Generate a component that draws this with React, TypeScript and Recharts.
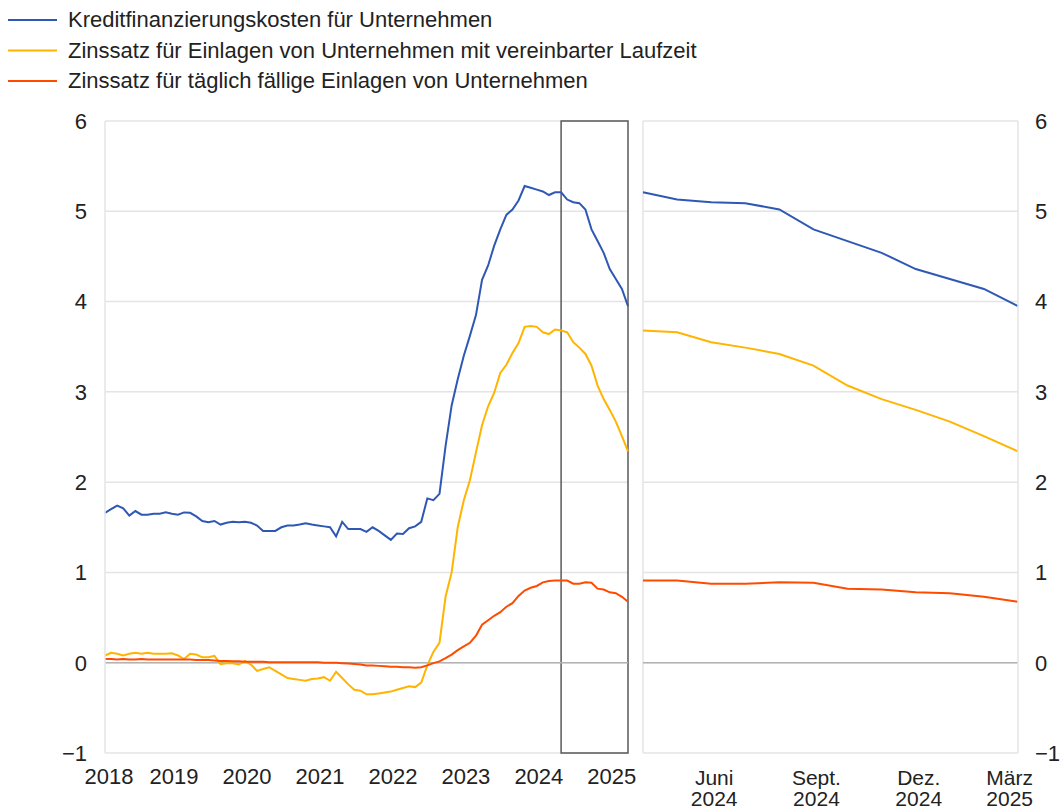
import { LineChart, Line, XAxis, YAxis, CartesianGrid, ReferenceLine, ReferenceArea } from 'recharts';

const FONT = '"Liberation Sans", Arial, sans-serif';
const TEXT = '#222222';
const GRID = '#e4e4e4';

const seriesNames = [
  'Kreditfinanzierungskosten für Unternehmen',
  'Zinssatz für Einlagen von Unternehmen mit vereinbarter Laufzeit',
  'Zinssatz für täglich fällige Einlagen von Unternehmen',
];
const seriesKeys = ['kredit', 'laufzeit', 'taeglich'];
const seriesColors = ['#2F58B4', '#FFB400', '#FF4B00'];

// monthly, Jan 2018 - Mar 2025 (% p.a.)
const kreditkosten = [
  1.66, 1.70, 1.74, 1.71, 1.63, 1.68, 1.64, 1.64, 1.65, 1.65, 1.665, 1.65,
  1.64, 1.665, 1.66, 1.62, 1.57, 1.555, 1.57, 1.53, 1.55, 1.56, 1.555, 1.56,
  1.55, 1.52, 1.46, 1.46, 1.46, 1.50, 1.52, 1.52, 1.53, 1.545, 1.53, 1.52,
  1.51, 1.50, 1.40, 1.56, 1.48, 1.48, 1.48, 1.45, 1.50, 1.46, 1.41, 1.36,
  1.43, 1.425, 1.49, 1.51, 1.56, 1.82, 1.80, 1.87, 2.40, 2.85, 3.14, 3.40,
  3.62, 3.85, 4.24, 4.40, 4.62, 4.80, 4.96, 5.02, 5.12, 5.28, 5.26, 5.24,
  5.22, 5.18, 5.21, 5.21, 5.13, 5.10, 5.09, 5.02, 4.80, 4.67, 4.54, 4.36,
  4.25, 4.14, 3.95,
];

const einlagenLaufzeit = [
  0.08, 0.11, 0.10, 0.08, 0.10, 0.11, 0.10, 0.11, 0.10, 0.10, 0.10, 0.105,
  0.08, 0.04, 0.10, 0.09, 0.06, 0.06, 0.075, -0.015, -0.005, -0.005, -0.02, 0.02,
  -0.02, -0.09, -0.07, -0.05, -0.09, -0.13, -0.17, -0.18, -0.19, -0.20, -0.18, -0.175,
  -0.16, -0.20, -0.10, -0.17, -0.24, -0.30, -0.31, -0.35, -0.35, -0.34, -0.33, -0.32,
  -0.30, -0.28, -0.26, -0.27, -0.22, -0.03, 0.12, 0.22, 0.73, 1.00, 1.50, 1.80,
  2.02, 2.33, 2.63, 2.84, 2.99, 3.21, 3.30, 3.43, 3.54, 3.72, 3.73, 3.72,
  3.66, 3.64, 3.69, 3.68, 3.66, 3.55, 3.49, 3.42, 3.29, 3.07, 2.92, 2.80,
  2.67, 2.51, 2.34,
];

const taeglichFaellig = [
  0.04, 0.04, 0.035, 0.04, 0.035, 0.035, 0.04, 0.035, 0.035, 0.035, 0.035, 0.035,
  0.035, 0.035, 0.035, 0.03, 0.03, 0.03, 0.025, 0.02, 0.02, 0.015, 0.015, 0.01,
  0.01, 0.01, 0.01, 0.005, 0.005, 0.005, 0.005, 0.005, 0.005, 0.005, 0.005, 0.005,
  0.0, 0.0, 0.0, -0.005, -0.01, -0.015, -0.02, -0.03, -0.03, -0.035, -0.04, -0.045,
  -0.045, -0.05, -0.05, -0.055, -0.05, -0.03, -0.005, 0.015, 0.05, 0.09, 0.14, 0.18,
  0.22, 0.30, 0.42, 0.47, 0.52, 0.56, 0.62, 0.66, 0.74, 0.80, 0.83, 0.85,
  0.89, 0.905, 0.91, 0.91, 0.91, 0.875, 0.875, 0.89, 0.885, 0.82, 0.81, 0.78,
  0.77, 0.73, 0.675,
];

const firstYear = 2018;
const yearLabels = [2018, 2019, 2020, 2021, 2022, 2023, 2024, 2025];
const yTicks = [-1, 0, 1, 2, 3, 4, 5, 6];

// zoomed panel: Apr 2024 - Mar 2025
const zoomStart = 75;
const rightTickMonths = [2, 5, 8, 11];
const rightTickLabels = [
  ['Juni', '2024'],
  ['Sept.', '2024'],
  ['Dez.', '2024'],
  ['März', '2025'],
];

const leftData = kreditkosten.map((v, i) => ({
  m: i,
  kredit: v,
  laufzeit: einlagenLaufzeit[i],
  taeglich: taeglichFaellig[i],
}));
const rightData = leftData.slice(zoomStart).map((d, i) => ({ ...d, m: i }));
const lastMonth = leftData.length - 1;

const fmtY = (v: number) => (v < 0 ? '\u2212' + Math.abs(v) : String(v));
const tickStyle = { fontSize: 22, fill: TEXT, fontFamily: FONT };

function YearTick(props: any) {
  const { x, y, payload, index } = props;
  const dx = index === 0 ? 4 : -4;
  return (
    <text x={x + dx} y={y + 31} textAnchor="middle" style={tickStyle}>
      {String(firstYear + payload.value / 12)}
    </text>
  );
}

function RightTick(props: any) {
  const { x, y, index } = props;
  const [l1, l2] = rightTickLabels[index] ?? ['', ''];
  const last = index === rightTickLabels.length - 1;
  const tx = last ? x + 15 : x + 3;
  const style = { ...tickStyle, fontSize: 21 };
  return (
    <g>
      <text x={tx} y={y + 32} textAnchor={last ? 'end' : 'middle'} style={style}>{l1}</text>
      <text x={tx} y={y + 53} textAnchor={last ? 'end' : 'middle'} style={style}>{l2}</text>
    </g>
  );
}

function Legend() {
  return (
    <svg width={720} height={100} style={{ position: 'absolute', left: 0, top: 0 }}>
      {seriesNames.map((name, i) => {
        const ly = 20 + i * 30.5;
        return (
          <g key={name}>
            <line x1={8} x2={57} y1={ly} y2={ly} stroke={seriesColors[i]} strokeWidth={2} />
            <text x={68} y={ly + 7} style={{ fontSize: 22, fill: TEXT, fontFamily: FONT }}>{name}</text>
          </g>
        );
      })}
    </svg>
  );
}

export default function App() {
  return (
    <div style={{ position: 'absolute', left: 0, top: 0, width: 1062, height: 811, background: '#fff', fontFamily: FONT }}>
      <Legend />

      <div style={{ position: 'absolute', left: 0, top: 0 }}>
        <LineChart width={640} height={811} data={leftData} margin={{ top: 121, right: 12, bottom: 8, left: 0 }}>
          <CartesianGrid vertical={false} stroke={GRID} strokeWidth={1.5} />
          <XAxis
            type="number"
            dataKey="m"
            domain={[0, lastMonth]}
            ticks={yearLabels.map((y) => (y - firstYear) * 12)}
            axisLine={false}
            tickLine={false}
            tickSize={0}
            tickMargin={0}
            height={50}
            tick={<YearTick />}
            interval={0}
          />
          <YAxis
            type="number"
            domain={[-1, 6]}
            ticks={yTicks}
            tickFormatter={fmtY}
            axisLine={{ stroke: GRID, strokeWidth: 1.5 }}
            tickLine={false}
            tickSize={0}
            tickMargin={18}
            width={105}
            tick={tickStyle}
            interval={0}
          />
          <ReferenceLine y={0} stroke="#b3b3b3" strokeWidth={1.5} />
          {seriesKeys.map((k, i) => (
            <Line
              key={k}
              dataKey={k}
              stroke={seriesColors[i]}
              strokeWidth={2}
              dot={false}
              type="linear"
              isAnimationActive={false}
            />
          ))}
          <ReferenceArea x1={zoomStart} x2={lastMonth} y1={-1} y2={6} fill="none" stroke="#5a5a5a" strokeWidth={1.5} />
        </LineChart>
      </div>

      <div style={{ position: 'absolute', left: 630, top: 0 }}>
        <LineChart width={432} height={811} data={rightData} margin={{ top: 121, right: 0, bottom: 8, left: 13 }}>
          <CartesianGrid vertical={false} stroke={GRID} strokeWidth={1.5} />
          <XAxis
            type="number"
            dataKey="m"
            domain={[0, rightData.length - 1]}
            ticks={rightTickMonths}
            axisLine={false}
            tickLine={false}
            tickSize={0}
            tickMargin={0}
            height={50}
            tick={<RightTick />}
            interval={0}
          />
          <YAxis
            orientation="right"
            type="number"
            domain={[-1, 6]}
            ticks={yTicks}
            tickFormatter={fmtY}
            axisLine={{ stroke: GRID, strokeWidth: 1.5 }}
            tickLine={false}
            tickSize={0}
            tickMargin={17}
            width={44}
            tick={tickStyle}
            interval={0}
          />
          <ReferenceLine x={0} stroke={GRID} strokeWidth={1.5} />
          <ReferenceLine y={0} stroke="#b3b3b3" strokeWidth={1.5} />
          {seriesKeys.map((k, i) => (
            <Line
              key={k}
              dataKey={k}
              stroke={seriesColors[i]}
              strokeWidth={2}
              dot={false}
              type="linear"
              isAnimationActive={false}
            />
          ))}
        </LineChart>
      </div>
    </div>
  );
}
